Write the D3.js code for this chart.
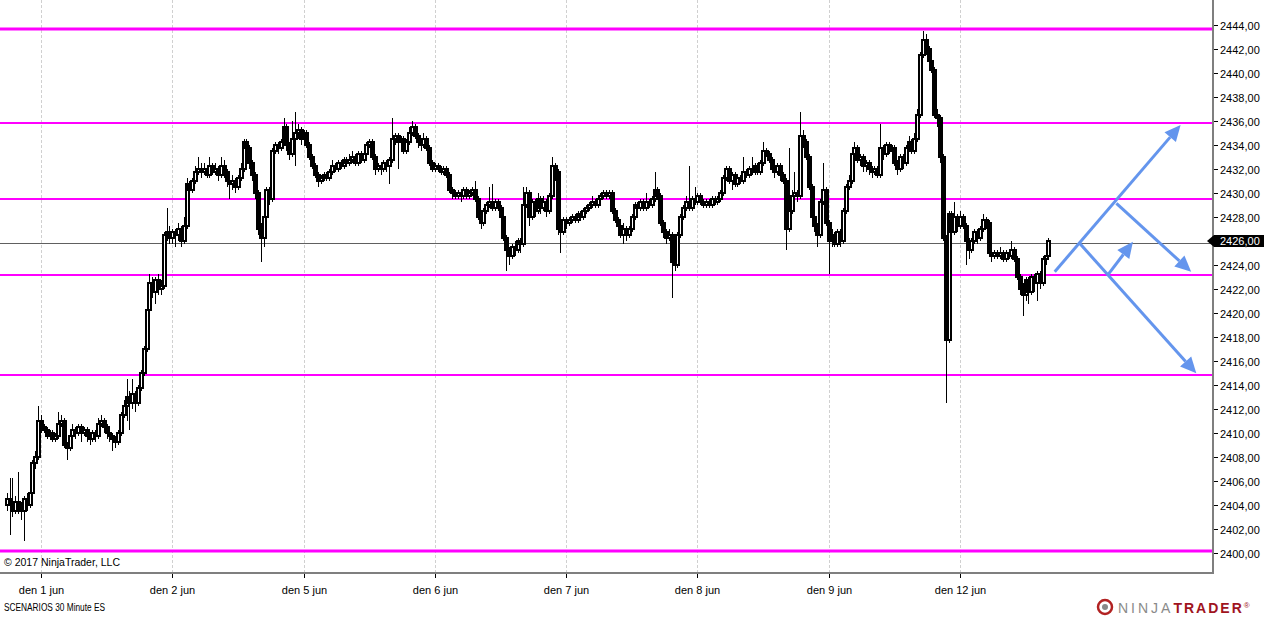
<!DOCTYPE html>
<html><head><meta charset="utf-8">
<script src="https://cdn.jsdelivr.net/npm/d3@7"></script>
<style>
body{margin:0;background:#fff;overflow:hidden}
svg{display:block}
text{font-family:"Liberation Sans",Arial,sans-serif}
</style>
</head><body>
<svg id="chart" width="1264" height="617"></svg>
<script>
// ---------- DATA (30 Minute ES, bar index 1 = first bar, index 13 = 00:00 1 jun) ----------
const firstBarIndex = 1;
const firstOpen = 2404.0;
const closes = [
2404.5,2404,2403.5,2404.25,2403.75,2403.5,2404.5,2404,2405,2407.5,2408,2411,2410.5,
2410.25,2409.75,2410,2409.5,2409.75,2410.75,2411,2409,2408.75,2409.75,2410.25,2410,2410.5,2410,2410.25,2409.75,2409.5,2410,2409.75,2410.75,2411,2410.5,2410,2409.75,2409.5,2409.25,2410,2411.5,2412.25,2413,2412.5,2413.25,2412.5,2413.75,2415,2417,2420.25,2422.5,2421.75,2422.75,2422,2422.25,2426.5,2426.75,2426.25,2426.75,
2426.5,2427,2426,2427.25,2430.75,2430.25,2431,2431.75,2432,2431.75,2432,2431.5,2432.25,2431.75,2432,2431.5,2432.25,2431.75,2431,2430.75,2431,2430.5,2431.25,2432,2434.25,2433.75,2432.5,2431.5,2430,2427,2426.25,2428,2430.25,2429.5,2433.5,2434,2433.75,2434.25,2435.5,2434,2433.25,2434.5,2435,2435.25,2434.5,2435,
2434,2433,2432.25,2431.5,2431,2431.25,2431.5,2431.25,2431.75,2432.25,2432,2432.5,2432.25,2432.75,2432.5,2432.75,2433,2432.5,2433.25,2432.75,2433.25,2434,2434.25,2433,2432,2432.25,2432,2432.5,2432.25,2432.75,2434.5,2434.75,2434.25,2434.5,2433.5,2434.25,2435,2435.5,2434.75,2434.25,2434,2434.5,2433.75,2432.5,2432,2432.25,
2432,2431.75,2432,2431.5,2430.25,2430,2429.75,2430,2429.75,2430.25,2429.75,2430,2430.25,2429.5,2428,2427.5,2428.5,2429,2429.25,2428.75,2429.25,2428.75,2428,2426.25,2425.25,2424.75,2425.5,2425.25,2426,2425.75,2429,2430,2428,2429.25,2428.5,2429.5,2428.75,2429.25,2428.5,2429.75,2432.25,2431.75,2427,2426.75,2427.75,2427.5,
2427.75,2428,2427.75,2428.25,2428,2428.5,2428.75,2429,2429.25,2429,2429.5,2429.75,2430,2429.75,2430,2428.5,2427.75,2427.25,2426.5,2427,2426.5,2427,2428,2429,2428.75,2429.25,2428.75,2429.25,2429,2429.5,2430.25,2429.75,2427.5,2426.75,2426.25,2426.5,2424.25,2424,2426.5,2428,2428.75,2429.25,2428.75,2429.5,2429.25,2429.75,
2429.25,2429,2429.25,2429,2429.5,2429.25,2429.5,2430,2431.25,2432,2431,2431.5,2430.75,2431.25,2431,2431.75,2431.5,2432,2431.75,2432.25,2431.75,2432.5,2433.5,2433.25,2432.75,2432,2431.75,2432.25,2431.5,2431,2427,2428.5,2429.75,2430,2429.75,2434.75,2434.25,2433,2430.5,2428,2427.25,2426.5,2429.25,2430.25,2427.5,2426,
2426.5,2425.75,2426.75,2426,2428.5,2430.5,2431,2433.25,2433.75,2432.75,2433,2432.25,2432.5,2432,2431.75,2432,2431.5,2433.75,2433.25,2434,2433.5,2433.75,2432.5,2432,2433,2432.5,2433.75,2434.25,2433.5,2434.5,2436.5,2441.5,2442.75,2442,2441,2440.25,2436.5,2436.25,2433,2426.25,2417.75,2428.25,2426.75,2428,2427.25,2428,
2427.25,2426,2425.25,2426,2426.75,2426.25,2427,2427.75,2427.5,2425,2424.75,2425,2424.75,2425,2424.5,2425,2424.75,2425.25,2424.5,2423,2422,2421.5,2422.75,2421.75,2423,2422.5,2423.25,2422.5,2424.5,2424.75,2426
];
const highs = [
2405,2406.25,2406.25,2404.75,2406.75,2404.25,2404.75,2405,2405.5,2407.75,2408.5,2412.25,2411.5,
2410.75,2410.5,2410.25,2410.25,2410,2411.75,2411.5,2411.25,2409.25,2410,2410.75,2410.5,2410.75,2410.75,2410.5,2410.5,2410,2410.25,2410.25,2411.25,2411.5,2411.25,2410.75,2410.25,2410,2409.75,2410.25,2411.75,2412.75,2414.5,2413.5,2414.5,2413.5,2414,2415.25,2417.25,2420.5,2423.25,2423,2423,2423.25,2422.75,2426.75,2428.75,2427.25,2427,
2427,2427.5,2427.25,2428,2431.25,2431,2431.25,2432.25,2433,2432.5,2432.5,2432.25,2433,2432.5,2432.5,2432.25,2433,2432.75,2432,2431.25,2431.5,2431.25,2431.5,2432.5,2434.5,2434.5,2434,2432.75,2431.75,2430.25,2427.5,2428.5,2430.5,2430.5,2433.75,2434.25,2434.25,2434.5,2436.25,2435.75,2434.25,2436,2436.75,2435.75,2435.5,2435.25,
2435.25,2434.25,2433.25,2432.5,2431.75,2431.5,2431.75,2431.75,2432,2432.75,2432.5,2432.75,2432.75,2433,2433,2433.25,2433.5,2433.25,2433.5,2433.5,2433.75,2434.25,2434.5,2434.5,2433.25,2432.5,2432.5,2432.75,2432.75,2433,2436.25,2435,2435,2434.75,2434.75,2434.5,2435.5,2436,2435.75,2435,2434.5,2435,2434.75,2434,2432.75,2432.5,
2432.5,2432.25,2432.25,2432.25,2431.75,2430.5,2430.25,2430.25,2430.25,2430.5,2430.5,2430.25,2430.5,2431,2429.75,2428.25,2428.75,2429.25,2430.5,2430.75,2429.5,2429.5,2429,2428.25,2426.5,2425.5,2425.75,2426,2426.25,2426.25,2430.5,2430.5,2430.25,2429.5,2429.5,2430,2429.75,2429.75,2429.5,2430,2433,2432.5,2432,2427.5,2428,2428,
2428,2428.25,2428.25,2428.5,2428.5,2428.75,2429,2429.25,2429.75,2429.5,2429.75,2430,2430.25,2430.25,2430.25,2430.25,2428.75,2428,2427.5,2427.5,2427.25,2427.25,2428.25,2429.25,2429.25,2429.5,2429.5,2430,2429.5,2429.75,2431.75,2430.5,2430,2427.75,2427,2427,2426.75,2424.5,2426.75,2428.25,2429,2429.75,2432.25,2429.75,2430.5,2430,
2430,2429.5,2429.5,2429.5,2429.75,2429.75,2429.75,2430.25,2431.5,2432.25,2432.25,2431.75,2431.75,2431.5,2431.5,2433,2432,2432.25,2433,2432.5,2432.5,2432.75,2434.25,2433.75,2433.5,2433,2432.25,2432.5,2432.5,2431.75,2431.25,2433.75,2430.25,2431.75,2430.25,2436.75,2435.25,2434.5,2433.25,2430.75,2428.5,2427.5,2429.5,2432.5,2430.5,2427.75,
2427,2426.75,2427,2427,2428.75,2430.75,2431.5,2433.5,2434.25,2434,2433.25,2433.25,2432.75,2432.75,2432.25,2432.25,2432.25,2435.75,2434,2434.25,2434.25,2434,2434,2432.75,2433.25,2433.25,2434,2434.75,2434.5,2435,2437,2441.75,2443.5,2443.25,2442.25,2441.75,2440.5,2437,2436.5,2433.25,2426.5,2428.5,2428.5,2429.25,2428.25,2428.5,
2428.25,2427.5,2426.25,2426.25,2427,2427,2427.25,2428.25,2428,2427.75,2425.25,2425.25,2425.25,2425.5,2425.25,2425.25,2425.25,2426,2425.5,2424.75,2423.25,2422.5,2423,2423,2423.25,2423.25,2423.5,2423.5,2424.75,2425,2426.25
];
const lows = [
2403.5,2401.5,2403,2403.25,2403.25,2402.75,2401,2403.5,2403.75,2404.75,2407,2407.75,2410,
2410,2409.5,2409.5,2409.25,2409.25,2409.5,2410.5,2408.75,2407.75,2408.5,2409.5,2409.5,2409.75,2409.25,2409.75,2409.25,2409,2409.25,2409.25,2409.5,2410.5,2410,2409.5,2409.25,2408.5,2408.75,2409,2409.75,2411.25,2411,2410.25,2412,2411.75,2412.25,2413.5,2414.75,2416.75,2420,2421.25,2420.75,2421.5,2421.5,2422,2426,2425.75,2425.75,
2425.5,2426,2425.5,2425.75,2427,2429.75,2430,2430.75,2431.5,2431.25,2431.5,2431.25,2431.25,2431.5,2431.5,2431,2431.25,2431.25,2430.5,2429.5,2430.25,2430,2430.25,2431,2431.75,2433.25,2432,2431,2429.5,2426.5,2424.25,2425.5,2427.75,2429,2429.25,2433.25,2433.25,2433.5,2434,2433.5,2432.75,2433,2432.25,2434.5,2434,2434.25,
2433.75,2432.75,2432,2431.25,2430.5,2430.75,2431,2431,2431,2431.5,2431.75,2431.75,2432,2432,2432.25,2432.25,2432.5,2432.25,2432.25,2432.5,2432.5,2433,2433.75,2432.75,2431.5,2431.75,2431.5,2431.75,2431.75,2430.75,2432.5,2434,2432,2433.75,2433.25,2433.25,2434,2434.75,2434.5,2433.75,2433.5,2433.75,2433.5,2432.25,2431.75,2431.75,
2431.75,2431.5,2431.5,2431.25,2430,2429.5,2429.5,2429.5,2429.25,2429.5,2429.5,2429.5,2429.75,2429.25,2427.75,2427,2427.25,2428.25,2428.75,2428.5,2428.5,2428.5,2427.75,2426,2423.5,2424,2424.5,2424.75,2425,2425,2425.5,2428.75,2427.25,2427.75,2428,2428.25,2428.25,2428.5,2428,2428.25,2429.5,2431,2426.5,2425,2426.5,2427,
2427.25,2427.5,2427.5,2427.5,2427.75,2427.75,2428.25,2428.5,2428.75,2428.75,2428.75,2429.25,2429.5,2429.5,2429.5,2428.25,2427.5,2426.75,2426.25,2425.75,2426,2426.25,2426.75,2427.75,2428.5,2428.5,2428.5,2428.5,2428.75,2428.75,2429.25,2429.5,2427.25,2426.25,2425.75,2426,2421.25,2423.5,2423.75,2426.25,2427.75,2428.5,2428.5,2428.5,2429,2429,
2429,2428.75,2428.75,2428.75,2428.75,2429,2429,2429.25,2429.75,2431,2430.75,2430.25,2430.5,2430.5,2430.75,2430.75,2431.25,2431.25,2431.5,2431.5,2431.5,2431.5,2432.25,2433,2432.5,2431.75,2431.25,2431.5,2431,2430.75,2425.25,2426.75,2428.25,2429.5,2429.25,2429.5,2433.75,2432.75,2430.25,2427.5,2426.75,2425.5,2426.25,2429,2427.25,2423.25,
2425.5,2425.5,2425.5,2425.5,2425.75,2428.25,2430.25,2430.75,2433,2432.5,2432.25,2431.75,2431.75,2431.5,2431.25,2431.5,2431.25,2431.25,2432.75,2433,2433.25,2433.25,2432.25,2431.5,2431.75,2432,2432.25,2433.5,2433.25,2433.25,2434.25,2436.25,2441.25,2441.5,2440.5,2440,2436.25,2435.5,2432.5,2426,2412.5,2417.5,2426.25,2426.5,2426.75,2427,
2427,2424,2424.5,2425,2425.75,2425.75,2426,2426.75,2427,2424.75,2424.25,2424.5,2424.5,2424.5,2424.25,2424.25,2424.5,2424.5,2424.25,2422.75,2421.5,2419.75,2421,2420.75,2421.5,2421.75,2421,2422,2422.25,2424,2424.5
];
const dayTickIndex = [13, 59, 105, 151, 197, 243, 289, 335];
const dayLabels = ["den 1 jun","den 2 jun","den 5 jun","den 6 jun","den 7 jun","den 8 jun","den 9 jun","den 12 jun"];
const priceTicks = [2400,2402,2404,2406,2408,2410,2412,2414,2416,2418,2420,2422,2424,2426,2428,2430,2432,2434,2436,2438,2440,2442,2444];
const levelPrices = [2443.67, 2435.83, 2429.5, 2423.17, 2414.83, 2400.17];
const levelHeavy = [true, false, false, false, false, true];
const currentLinePrice = 2425.83;
const lastPrice = 2426.0;
// scenario arrows: start/end in (bar index, price)
const arrowStartIdx = [368.2, 389.8, 376.9, 386.8];
const arrowStartPrice = [2423.44, 2429.14, 2425.81, 2423.17];
const arrowEndIdx = [412.3, 416.0, 417.8, 395.6];
const arrowEndPrice = [2435.67, 2423.44, 2414.97, 2425.94];

// ---------- DRAW ----------
const plotRight = 1213, plotBottom = 573;
const svg = d3.select("#chart");
const x = d3.scaleLinear().domain([13, 335]).range([41, 960]);
const y = d3.scaleLinear().domain([2400, 2444]).range([553, 25]);
const fmt = v => d3.format(".2f")(v).replace(".", ",");

const opens = [firstOpen].concat(closes.slice(0, -1));
const bars = closes.map((c, k) => ({i: firstBarIndex + k, o: opens[k], h: highs[k], l: lows[k], c}));

svg.append("defs").append("clipPath").attr("id","plotClip")
  .append("rect").attr("x",0).attr("y",0).attr("width",plotRight).attr("height",plotBottom);

// vertical dashed day gridlines
svg.append("g").selectAll("line").data(dayTickIndex).join("line")
  .attr("x1", d => Math.round(x(d)) + 0.5).attr("x2", d => Math.round(x(d)) + 0.5)
  .attr("y1", 0).attr("y2", plotBottom)
  .attr("stroke", "#d0d0d0").attr("stroke-width", 1).attr("stroke-dasharray", "3,2");

const plot = svg.append("g").attr("clip-path","url(#plotClip)");

// magenta levels
plot.selectAll("line.lvl").data(levelPrices).join("line").attr("class","lvl")
  .attr("x1", 0).attr("x2", plotRight)
  .attr("y1", d => y(d)).attr("y2", d => y(d))
  .attr("stroke", "#ff00ff")
  .attr("stroke-width", (d, k) => levelHeavy[k] ? 3 : 2);

// current price line
plot.append("line").attr("x1",0).attr("x2",plotRight)
  .attr("y1", Math.round(y(currentLinePrice)) + 0.5).attr("y2", Math.round(y(currentLinePrice)) + 0.5)
  .attr("stroke", "#606060").attr("stroke-width", 1);

// candles
const cg = plot.append("g").attr("shape-rendering","crispEdges");
bars.forEach(b => {
  const cx = Math.round(x(b.i));
  cg.append("line").attr("x1", cx + 0.5).attr("x2", cx + 0.5)
    .attr("y1", y(b.h)).attr("y2", y(b.l)).attr("stroke", "#000").attr("stroke-width", 1.4);
  const top = y(Math.max(b.o, b.c)), bot = y(Math.min(b.o, b.c));
  cg.append("rect").attr("x", cx - 1).attr("y", top).attr("width", 3).attr("height", Math.max(0, bot - top))
    .attr("fill", b.c >= b.o ? "#fff" : "#000").attr("stroke", "#000").attr("stroke-width", 1.3);
});

// arrows
const arrowColor = "#6495ed";
const ag = svg.append("g");
arrowStartIdx.forEach((si, k) => {
  const x1 = x(si), y1 = y(arrowStartPrice[k]), x2 = x(arrowEndIdx[k]), y2 = y(arrowEndPrice[k]);
  const ang = Math.atan2(y2 - y1, x2 - x1);
  const headL = 16, headW = 7.5;
  const bx = x2 - headL * Math.cos(ang), by = y2 - headL * Math.sin(ang);
  ag.append("line").attr("x1", x1).attr("y1", y1).attr("x2", bx).attr("y2", by)
    .attr("stroke", arrowColor).attr("stroke-width", 3);
  const px = -Math.sin(ang), py = Math.cos(ang);
  ag.append("path").attr("d", `M${x2},${y2}L${bx + px*headW},${by + py*headW}L${bx - px*headW},${by - py*headW}Z`)
    .attr("fill", arrowColor);
});

// right axis
svg.append("line").attr("x1", plotRight).attr("x2", plotRight).attr("y1", 0).attr("y2", plotBottom + 1)
  .attr("stroke", "#7f7f7f").attr("stroke-width", 2);
const yax = svg.append("g");
priceTicks.forEach(p => {
  const yy = Math.round(y(p)) + 0.5;
  yax.append("line").attr("x1", plotRight + 1).attr("x2", plotRight + 5).attr("y1", yy).attr("y2", yy).attr("stroke", "#000");
  yax.append("text").attr("x", 1220).attr("y", yy + 4).attr("font-size", 11).attr("fill", "#000").text(fmt(p));
});
// last price marker
const ly = y(lastPrice);
svg.append("path").attr("d", `M1207,${ly}L1214,${ly-6}L1264,${ly-6}L1264,${ly+6}L1214,${ly+6}Z`).attr("fill", "#000");
svg.append("text").attr("x", 1220).attr("y", ly + 4).attr("font-size", 11).attr("fill", "#fff").text(fmt(lastPrice));

// bottom axis
svg.append("line").attr("x1", 0).attr("x2", plotRight + 1).attr("y1", plotBottom).attr("y2", plotBottom)
  .attr("stroke", "#7f7f7f").attr("stroke-width", 2);
const xax = svg.append("g");
dayTickIndex.forEach((d, k) => {
  const xx = Math.round(x(d)) + 0.5;
  xax.append("line").attr("x1", xx).attr("x2", xx).attr("y1", plotBottom + 1).attr("y2", plotBottom + 5).attr("stroke", "#000");
  xax.append("text").attr("x", xx).attr("y", 594).attr("text-anchor", "middle").attr("font-size", 11).attr("fill", "#000").text(dayLabels[k]);
});

// texts
svg.append("text").attr("x", 4).attr("y", 566).attr("font-size", 11).attr("fill", "#000")
  .attr("textLength", 116).attr("lengthAdjust", "spacingAndGlyphs").text("© 2017 NinjaTrader, LLC");
svg.append("text").attr("x", 4).attr("y", 611).attr("font-size", 10).attr("fill", "#000")
  .attr("textLength", 101).attr("lengthAdjust", "spacingAndGlyphs").text("SCENARIOS 30 Minute ES");

// logo
const lg = svg.append("g");
lg.append("circle").attr("cx", 1105).attr("cy", 607).attr("r", 7).attr("fill", "none").attr("stroke", "#b22222").attr("stroke-width", 2.5);
lg.append("circle").attr("cx", 1105).attr("cy", 607).attr("r", 3).attr("fill", "#888");
const lt = lg.append("text").attr("x", 1118).attr("y", 613).attr("font-size", 14).attr("letter-spacing", 3);
lt.append("tspan").attr("fill", "#8a8a8a").text("NINJA");
lt.append("tspan").attr("fill", "#a0141e").attr("font-weight", "bold").attr("letter-spacing", 2).text("TRADER");
lt.append("tspan").attr("fill", "#a0141e").attr("font-size", 8).attr("dy", -5).attr("letter-spacing", 0).text("®");
</script>
</body></html>
